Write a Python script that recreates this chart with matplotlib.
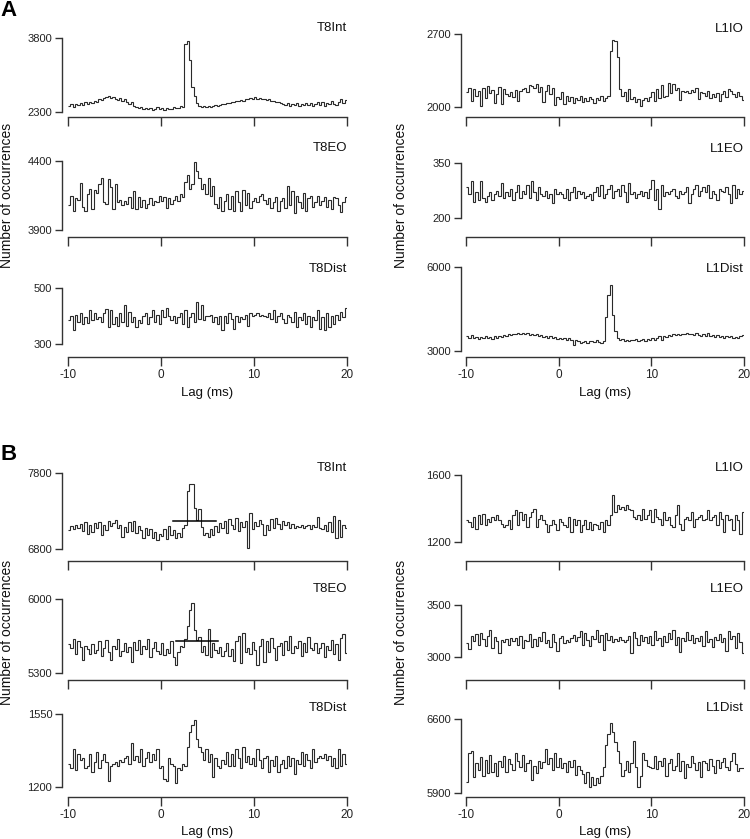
import matplotlib
matplotlib.use("Agg")
import matplotlib.pyplot as plt
import numpy as np

plt.rcParams['font.family'] = ['Liberation Sans', 'DejaVu Sans']

# ---------------- data (counts per 0.25 ms bin, lag -10 .. 20 ms) ----------------
lag_start, lag_end, bin_ms = -10, 20, 0.25
xticks = [-10, 0, 10, 20]

A_T8Int = [
2430,2460,2410,2470,2440,2480,2450,2500,2470,2510,2490,2530,2510,2560,2540,2580,2600,2620,2580,2610,
2570,2540,2590,2530,2560,2500,2470,2500,2420,2400,2380,2410,2370,2390,2360,2380,2350,2370,2400,2360,
2380,2350,2390,2360,2370,2400,2380,2390,2420,2400,3680,3740,3350,2800,2620,2480,2420,2410,2430,2400,
2420,2410,2430,2440,2420,2450,2470,2460,2490,2480,2510,2500,2530,2520,2550,2530,2560,2570,2590,2560,
2600,2570,2590,2560,2570,2540,2560,2520,2530,2500,2510,2480,2470,2450,2490,2430,2460,2440,2480,2420,
2460,2450,2480,2440,2490,2430,2470,2500,2450,2510,2420,2490,2460,2520,2470,2440,2510,2560,2490,2540]

A_T8EO = [
4080,4150,4040,4130,4120,4240,4070,4040,4160,4200,4050,4190,4170,4230,4280,4100,4090,4270,4210,4050,
4230,4100,4120,4080,4110,4090,4140,4060,4180,4050,4140,4070,4120,4060,4090,4130,4080,4110,4100,4150,
4110,4140,4060,4130,4090,4120,4150,4110,4160,4140,4250,4300,4200,4230,4390,4330,4280,4200,4230,4160,
4280,4150,4220,4090,4060,4140,4040,4110,4160,4050,4150,4040,4180,4100,4040,4190,4080,4170,4060,4110,
4130,4100,4150,4160,4120,4090,4130,4060,4100,4140,4040,4110,4130,4060,4220,4080,4180,4020,4150,4100,
4060,4170,4040,4130,4150,4070,4100,4150,4080,4110,4140,4070,4120,4050,4140,4130,4080,4030,4100,4140]

A_T8Dist = [
385,400,350,405,380,410,370,395,375,420,385,410,390,395,380,410,425,360,420,370,
395,365,410,380,440,365,415,380,395,360,385,375,400,410,370,395,420,380,405,370,
420,395,430,400,385,400,375,395,410,370,420,360,395,410,380,450,390,440,385,400,
400,405,380,395,370,400,350,400,375,410,390,355,400,380,395,390,405,365,410,400,
405,410,400,405,400,395,410,390,420,380,400,410,390,375,405,395,380,415,360,395,
385,410,370,400,360,395,385,420,355,395,350,410,360,400,370,405,385,415,395,430]

A_L1IO = [
2140,2180,2060,2170,2110,2150,2010,2180,2090,2200,2130,2160,2040,2120,2190,2030,2170,2120,2110,2140,
2100,2160,2060,2150,2170,2180,2140,2210,2200,2180,2220,2140,2190,2050,2150,2210,2120,2180,2020,2100,
2080,2140,2030,2110,2060,2100,2040,2090,2070,2110,2050,2090,2060,2100,2080,2040,2090,2070,2110,2060,
2090,2110,2540,2640,2630,2480,2170,2110,2140,2060,2170,2080,2100,2050,2080,2010,2070,2090,2060,2100,
2140,2060,2170,2090,2210,2100,2110,2230,2130,2220,2160,2180,2070,2150,2140,2150,2130,2160,2140,2180,
2080,2140,2130,2110,2150,2090,2120,2100,2130,2060,2120,2150,2100,2170,2150,2120,2100,2140,2110,2070]

A_L1EO = [
285,265,300,245,270,250,300,255,245,260,270,250,265,275,260,295,255,270,260,280,
250,270,290,255,275,265,290,255,300,270,250,285,265,260,275,255,265,240,280,265,
270,265,255,280,250,270,285,255,275,265,270,255,260,265,250,270,285,260,290,255,
265,280,290,255,275,280,260,290,270,245,295,265,270,255,265,275,260,270,255,280,
305,250,280,225,290,260,270,265,275,280,260,255,275,265,270,285,240,265,280,290,
260,275,285,270,290,255,275,265,250,280,275,270,285,265,240,290,255,280,265,275]

A_L1Dist = [
3530,3480,3560,3470,3510,3440,3500,3470,3520,3460,3490,3440,3520,3480,3550,3500,3580,3530,3600,3560,
3620,3590,3660,3610,3640,3600,3650,3570,3620,3580,3600,3550,3570,3510,3550,3480,3520,3460,3490,3430,
3480,3420,3460,3400,3450,3380,3200,3390,3360,3280,3330,3350,3300,3370,3340,3310,3380,3330,3290,3350,
4200,5000,5350,4300,3700,3450,3380,3420,3360,3400,3340,3410,3380,3430,3360,3390,3440,3350,3420,3390,
3460,3400,3480,3530,3380,3550,3500,3580,3520,3610,3560,3600,3580,3620,3590,3640,3600,3610,3580,3630,
3570,3550,3600,3520,3640,3540,3570,3510,3560,3490,3530,3470,3550,3500,3520,3460,3510,3480,3540,3560]

B_T8Int = [
7050,7100,7060,7120,7080,7130,7040,7150,7000,7120,7030,7140,7080,7160,6990,7110,7050,7170,7100,7140,
7180,7080,7120,6960,7090,7020,7150,7040,7170,7010,7100,7050,6950,7080,6990,7060,6940,7020,6920,7000,
6970,7060,6930,7100,6990,7050,6940,7010,6960,7080,7120,7560,7650,7660,7340,7180,7320,7090,6980,7010,
6960,7060,6990,7100,7030,7140,7080,7170,7010,7200,7120,7060,7210,7040,7150,7090,7170,6810,7270,7060,
7150,7100,7180,7130,6980,7120,7050,7190,7080,7210,7130,7060,7170,7110,7150,7080,7130,7070,7100,7090,
7110,7080,7100,7120,7060,7110,7090,7220,7080,7060,7110,7040,7150,7020,7230,6950,7180,6960,7120,7080]

B_T8EO = [
5570,5540,5620,5480,5600,5550,5420,5560,5530,5480,5570,5490,5520,5600,5460,5540,5610,5500,5420,5560,
5530,5620,5460,5510,5580,5500,5550,5400,5590,5520,5610,5480,5560,5530,5620,5450,5540,5590,5510,5480,
5580,5470,5530,5490,5600,5450,5380,5500,5560,5550,5620,5740,5900,5960,5710,5610,5640,5500,5560,5470,
5720,5450,5580,5520,5490,5550,5460,5510,5580,5460,5530,5410,5600,5650,5390,5680,5500,5540,5480,5590,
5520,5380,5560,5620,5400,5600,5500,5630,5540,5420,5560,5580,5470,5600,5520,5650,5490,5560,5540,5600,
5460,5580,5500,5640,5540,5520,5580,5490,5540,5580,5450,5560,5520,5610,5480,5570,5420,5630,5670,5490]

B_T8Dist = [
1310,1290,1380,1280,1360,1330,1340,1290,1300,1360,1270,1320,1370,1290,1330,1360,1320,1230,1300,1310,
1320,1300,1330,1320,1340,1350,1310,1410,1330,1350,1320,1380,1300,1340,1370,1320,1360,1330,1380,1290,
1300,1240,1230,1340,1310,1300,1220,1290,1280,1310,1300,1390,1465,1497,1521,1430,1390,1370,1330,1380,
1320,1360,1250,1340,1300,1290,1330,1310,1370,1300,1360,1300,1380,1340,1290,1390,1320,1350,1310,1340,
1300,1380,1330,1290,1340,1350,1270,1330,1300,1350,1270,1310,1330,1290,1350,1300,1340,1260,1330,1310,
1370,1300,1360,1330,1290,1380,1320,1340,1350,1340,1360,1330,1350,1300,1340,1290,1380,1300,1360,1310]

B_L1IO = [
1330,1320,1290,1350,1280,1360,1310,1370,1300,1340,1320,1350,1330,1360,1330,1310,1290,1300,1330,1280,
1360,1390,1300,1380,1330,1370,1290,1350,1380,1400,1290,1340,1360,1330,1310,1260,1300,1330,1310,1270,
1340,1320,1300,1290,1350,1260,1340,1300,1330,1260,1300,1330,1280,1320,1270,1310,1300,1280,1320,1260,
1330,1300,1360,1480,1380,1420,1400,1410,1390,1420,1400,1390,1350,1340,1360,1330,1400,1340,1360,1390,
1320,1400,1350,1340,1300,1380,1330,1350,1300,1290,1360,1420,1310,1270,1340,1350,1330,1380,1290,1340,
1350,1360,1330,1340,1390,1330,1350,1360,1300,1380,1340,1260,1360,1330,1340,1270,1360,1330,1250,1380]

B_L1EO = [
3130,3080,3200,3150,3220,3120,3230,3170,3110,3200,3260,3090,3190,3150,3040,3160,3140,3170,3120,3180,
3150,3180,3120,3200,3090,3160,3150,3220,3100,3170,3110,3190,3150,3240,3130,3160,3100,3220,3140,3060,
3180,3200,3130,3160,3140,3180,3210,3150,3190,3250,3120,3230,3160,3110,3200,3170,3260,3140,3210,3070,
3230,3160,3200,3140,3170,3150,3190,3160,3140,3160,3200,3040,3240,3180,3120,3210,3150,3190,3130,3200,
3120,3250,3160,3180,3110,3200,3140,3230,3170,3260,3120,3190,3050,3180,3150,3240,3160,3210,3130,3180,
3150,3200,3110,3250,3140,3170,3100,3190,3160,3220,3140,3180,3060,3250,3170,3200,3090,3230,3140,3040]

B_L1Dist = [
6000,6280,6300,6050,6180,6120,6240,6060,6210,6090,6260,6100,6180,6060,6200,6150,6250,6100,6220,6170,
6120,6280,6200,6150,6260,6110,6180,6210,6020,6160,6090,6200,6140,6190,6320,6170,6230,6120,6280,6150,
6230,6140,6180,6100,6200,6150,6210,6070,6160,6120,6080,5990,6100,5960,6050,5980,6040,5990,6060,6150,
6350,6460,6560,6480,6380,6300,6180,6060,6120,6200,6100,6180,6390,6150,5960,6060,6280,6210,6160,6150,
6140,6250,6130,6200,6160,6230,6060,6180,6220,6120,6160,6280,6110,6200,6040,6170,6150,6250,6180,6120,
6190,6050,6200,6180,6120,6220,6160,6090,6210,6140,6190,6230,6150,6120,6200,6280,6170,6110,6140,6140]

# reference bars (lag from, lag to, level) in B T8Int / T8EO
B_T8Int_bar = (1.3, 5.9, 7170)
B_T8EO_bar = (1.6, 6.1, 5600)

# ---------------- layout ----------------
W, H = 750, 839
fig = plt.figure(figsize=(W / 100, H / 100), dpi=100)
edges = np.arange(lag_start, lag_end + bin_ms / 2, bin_ms)
LINE = '#2a2a2a'
AX = '#333333'

cols = {0: (68, 347, 62), 1: (466, 744, 461)}

# (col, title, data, vtop, ptop, vbot, pbot, xaxis_px, title_px, labels, bar)
panels = [
    (0, 'T8Int', A_T8Int, 3800, 38, 2300, 112, 117, 28, False, None),
    (0, 'T8EO', A_T8EO, 4400, 161, 3900, 230, 237, 148, False, None),
    (0, 'T8Dist', A_T8Dist, 500, 288, 300, 344, 357, 269, True, None),
    (1, 'L1IO', A_L1IO, 2700, 34, 2000, 107, 117, 29, False, None),
    (1, 'L1EO', A_L1EO, 350, 163, 200, 218, 237, 149, False, None),
    (1, 'L1Dist', A_L1Dist, 6000, 267, 3000, 351, 357, 269, True, None),
    (0, 'T8Int', B_T8Int, 7800, 473, 6800, 549, 561, 468, False, B_T8Int_bar),
    (0, 'T8EO', B_T8EO, 6000, 599, 5300, 673, 680, 589, False, B_T8EO_bar),
    (0, 'T8Dist', B_T8Dist, 1550, 714, 1200, 787, 797, 708, True, None),
    (1, 'L1IO', B_L1IO, 1600, 475, 1200, 542, 561, 468, False, None),
    (1, 'L1EO', B_L1EO, 3500, 605, 3000, 657, 680, 589, False, None),
    (1, 'L1Dist', B_L1Dist, 6600, 719, 5900, 793, 797, 708, True, None),
]

for col, title, data, vtop, ptop, vbot, pbot, xpx, tpx, labels, bar in panels:
    x0, x1, yspine = cols[col]
    ytop_px = ptop - 8
    ax = fig.add_axes([x0 / W, 1 - xpx / H, (x1 - x0) / W, (xpx - ytop_px) / H])
    s = (vtop - vbot) / (pbot - ptop)
    ax.set_ylim(vbot - (xpx - pbot) * s, vtop + (ptop - ytop_px) * s)
    ax.set_xlim(lag_start, lag_end)
    ax.stairs(data, edges, color=LINE, lw=0.8, baseline=None)
    if bar is not None:
        ax.plot([bar[0], bar[1]], [bar[2], bar[2]], color='black', lw=1.1)
    for sp in ('top', 'right'):
        ax.spines[sp].set_visible(False)
    ax.spines['left'].set_position(('outward', (x0 - yspine) * 0.72))
    ax.spines['left'].set_bounds(vbot, vtop)
    ax.spines['bottom'].set_bounds(lag_start, lag_end)
    for sp in ('left', 'bottom'):
        ax.spines[sp].set_linewidth(1.0)
        ax.spines[sp].set_color(AX)
    ax.set_yticks([vbot, vtop])
    ax.set_yticklabels([str(vbot), str(vtop)])
    ax.set_xticks(xticks)
    if labels:
        ax.set_xticklabels([str(t) for t in xticks])
    else:
        ax.set_xticklabels([])
    ax.tick_params(axis='y', length=5, width=1.0, color=AX, labelsize=8, pad=2, labelcolor='#222')
    ax.tick_params(axis='x', length=6.5, width=1.0, color=AX, labelsize=8.5, pad=2.5, labelcolor='#222')
    ax.patch.set_visible(False)
    fig.text(x1 / W, 1 - tpx / H, title, ha='right', va='center', fontsize=9.5, color='#111')

# axis labels
for cx in (207.5, 605):
    fig.text(cx / W, 1 - 393 / H, 'Lag (ms)', ha='center', va='center', fontsize=9.5, color='#111')
    fig.text(cx / W, 1 - 832 / H, 'Lag (ms)', ha='center', va='center', fontsize=9.5, color='#111')
for lx in (7, 401):
    fig.text(lx / W, 1 - 195 / H, 'Number of occurrences', rotation=90, ha='center', va='center',
             fontsize=10, color='#111')
    fig.text(lx / W, 1 - 632 / H, 'Number of occurrences', rotation=90, ha='center', va='center',
             fontsize=10, color='#111')

fig.text(0 / W, 1 - 11 / H, 'A', ha='left', va='center', fontsize=16, fontweight='bold')
fig.text(0 / W, 1 - 455 / H, 'B', ha='left', va='center', fontsize=16, fontweight='bold')

fig.savefig('out.png', dpi=100)
